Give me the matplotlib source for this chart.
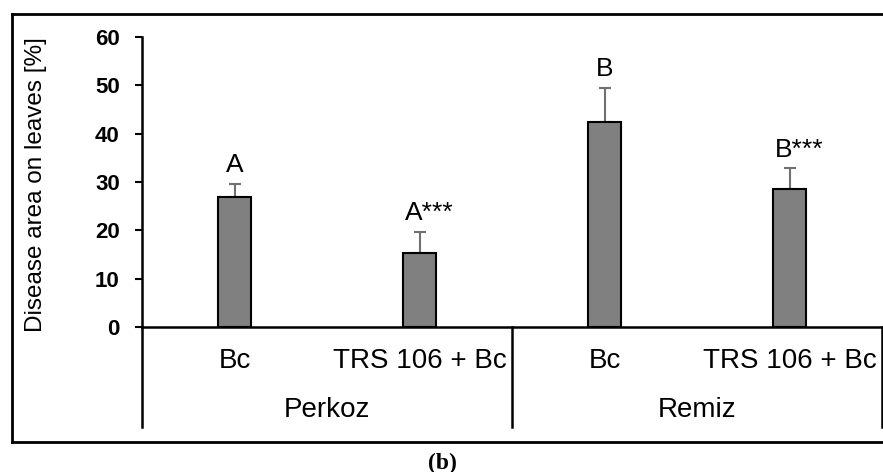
import numpy as np
import matplotlib
matplotlib.use("Agg")
from matplotlib import pyplot as plt
from matplotlib.lines import Line2D

plt.rcParams["font.family"] = ["Liberation Sans", "DejaVu Sans"]

# data
treatments = ["Bc", "TRS 106 + Bc", "Bc", "TRS 106 + Bc"]
cultivars = ["Perkoz", "Remiz"]
means = [27.0, 15.4, 42.5, 28.5]
errors = [2.5, 4.3, 6.9, 4.3]
letters = ["A", "A***", "B", "B***"]

W, H = 883, 472
fig = plt.figure(figsize=(W / 100, H / 100), dpi=100)

# axes box in pixel terms
x0, x1 = 142, 882
y_top, y_zero = 37, 327
ax = fig.add_axes([x0 / W, 1 - y_zero / H, (x1 - x0) / W, (y_zero - y_top) / H])

x = np.arange(len(means))
ax.bar(x, means, width=0.178, color="#808080", edgecolor="black", linewidth=1.5, zorder=2)
ax.errorbar(x, means, yerr=[np.zeros(len(errors)), errors], fmt="none",
            ecolor="#707070", elinewidth=1.5, capsize=4.5, capthick=1.5, zorder=1)

for xi, m, e, lab in zip(x, means, errors, letters):
    dx = 7.2 if "*" in lab else 0
    ax.annotate(lab, (xi, m + e), xytext=(dx, 5), textcoords="offset points",
                ha="center", va="bottom", fontsize=19)

ax.set_xlim(-0.5, len(means) - 0.5)
ax.set_ylim(0, 60)
ax.set_yticks(np.arange(0, 61, 10))
ax.set_xticks([])
for lab in ax.get_yticklabels():
    lab.set_fontweight("bold")
ax.tick_params(axis="y", labelsize=16, width=1.5, length=5, pad=11, direction="out")
for side in ["top", "right"]:
    ax.spines[side].set_visible(False)
for side in ["left", "bottom"]:
    ax.spines[side].set_linewidth(1.8)

ax.set_ylabel("Disease area on leaves [%]", fontsize=17.5)
ax.yaxis.set_label_coords(-0.128, 0.49)

# category table below the axis
trans = ax.get_xaxis_transform()
y_low = -(427 - y_zero) / (y_zero - y_top)
for xb in [-0.5, 1.5, 3.5]:
    ax.add_line(Line2D([xb, xb], [0, y_low], transform=trans, color="black",
                       linewidth=1.8, clip_on=False))
for xi, t in zip(x, treatments):
    ax.text(xi, -(361 - y_zero) / (y_zero - y_top), t, transform=trans,
            ha="center", va="center", fontsize=20)
for i, c in enumerate(cultivars):
    ax.text(2 * i + 0.5, -(410 - y_zero) / (y_zero - y_top), c, transform=trans,
            ha="center", va="center", fontsize=20)

# outer frame (right side runs off the picture)
fl, ft, fb = 12 / W, 1 - 14 / H, 1 - 442 / H
fig.add_artist(Line2D([fl, 1.01], [ft, ft], color="black", linewidth=2))
fig.add_artist(Line2D([fl, 1.01], [fb, fb], color="black", linewidth=2))
fig.add_artist(Line2D([fl, fl], [fb, ft], color="black", linewidth=2))

fig.text(442 / W, 1 - 463 / H, "(b)", ha="center", va="center", fontsize=17,
         fontweight="bold", family=["Liberation Serif", "DejaVu Serif"])

fig.savefig("out.png", dpi=100)
